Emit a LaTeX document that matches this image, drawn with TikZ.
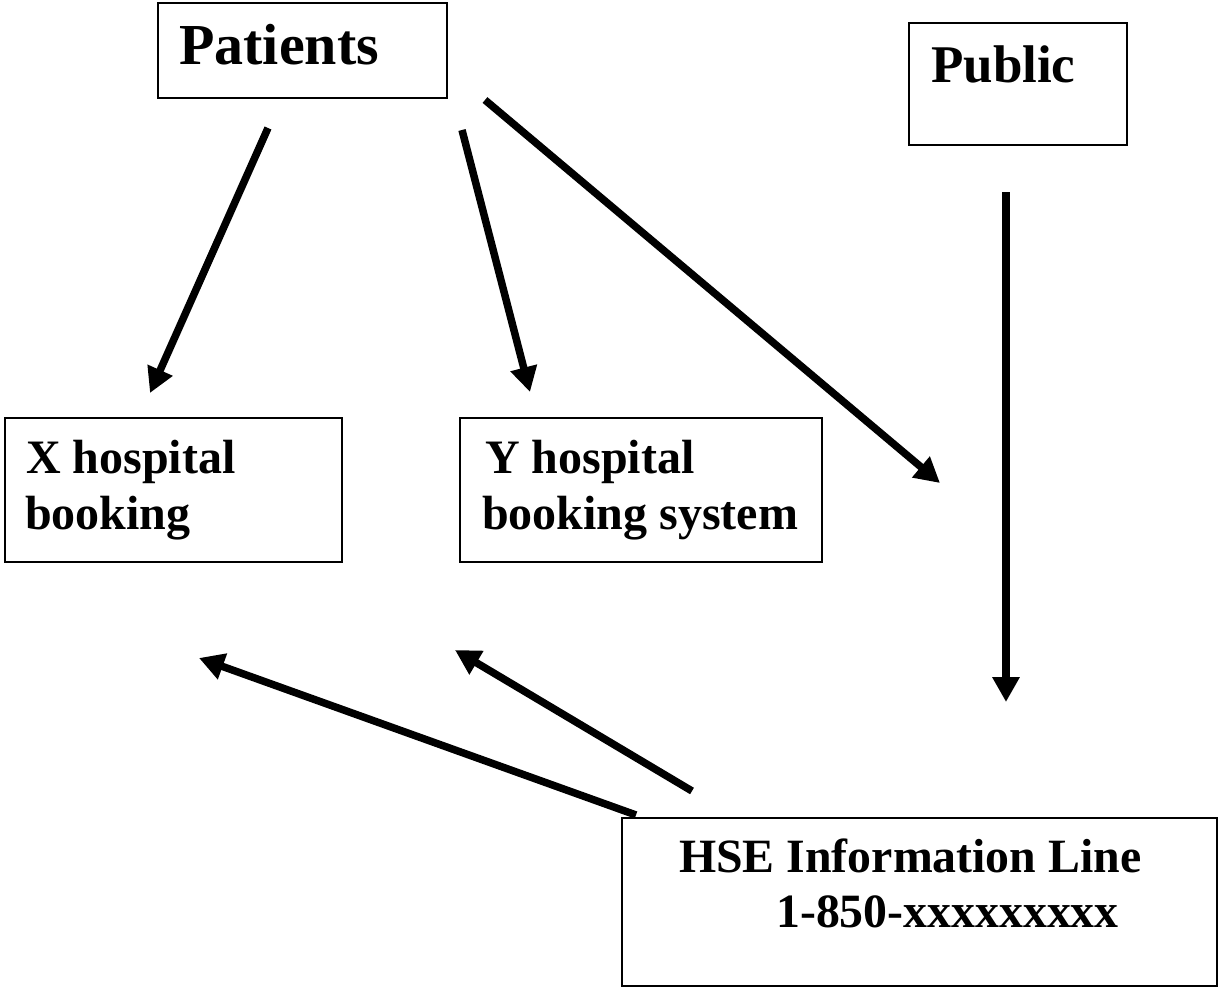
\documentclass[tikz,border=0pt]{standalone}
\usepackage{fontspec}
\setmainfont{Liberation Serif}
\usetikzlibrary{arrows.meta}
\tikzset{
  box/.style={draw=black, line width=1.8pt, rectangle, inner sep=0pt},
  txt/.style={anchor=base west, inner sep=0pt, font=\bfseries\fontsize{48}{48}\selectfont},
  arr/.style={line width=7.5pt, -{Triangle[length=25pt,width=26pt]}}
}
\begin{document}
\begin{tikzpicture}[x=1pt,y=-1pt]
\useasboundingbox (0,0) rectangle (1224,990);
% boxes
\node[box, minimum width=289pt, minimum height=95pt] (patients) at (302.5,50.5) {};
\node[box, minimum width=218pt, minimum height=122pt] (public) at (1018,84) {};
\node[box, minimum width=337pt, minimum height=144pt] (xbox) at (173.5,490) {};
\node[box, minimum width=362pt, minimum height=144pt] (ybox) at (641,490) {};
\node[box, minimum width=595pt, minimum height=168pt] (hse) at (919.5,902) {};
% texts
\node[txt, font=\bfseries\fontsize{58}{58}\selectfont] (tpat) at (179,65) {Patients};
\node[txt, font=\bfseries\fontsize{53}{53}\selectfont] (tpub) at (931,83) {Public};
\node[txt] (tx1) at (26,473) {X hospital};
\node[txt] (tx2) at (25,529) {booking};
\node[txt] (ty1) at (485,473) {Y hospital};
\node[txt] (ty2) at (482,529) {booking system};
\node[txt, font=\bfseries\fontsize{47.8}{47.8}\selectfont] (th1) at (679,872) {HSE Information Line};
\node[txt, font=\bfseries\fontsize{47.8}{47.8}\selectfont] (th2) at (776,927) {1-850-xxxxxxxxx};
% arrow end points
\coordinate (a1s) at (268,128);
\coordinate (a1e) at (150,393);
\coordinate (a2s) at (462,130);
\coordinate (a2e) at (530,392);
\coordinate (a3s) at (485,100);
\coordinate (a3e) at (940,483);
\coordinate (a4s) at (1006,192);
\coordinate (a4e) at (1006,702);
\coordinate (a5s) at (636,815);
\coordinate (a5e) at (199,658);
\coordinate (a6s) at (692,791);
\coordinate (a6e) at (455,650);
% arrows
\draw[arr] (a1s) -- (a1e);
\draw[arr] (a2s) -- (a2e);
\draw[arr] (a3s) -- (a3e);
\draw[arr] (a4s) -- (a4e);
\draw[arr] (a5s) -- (a5e);
\draw[arr] (a6s) -- (a6e);
\end{tikzpicture}
\end{document}
